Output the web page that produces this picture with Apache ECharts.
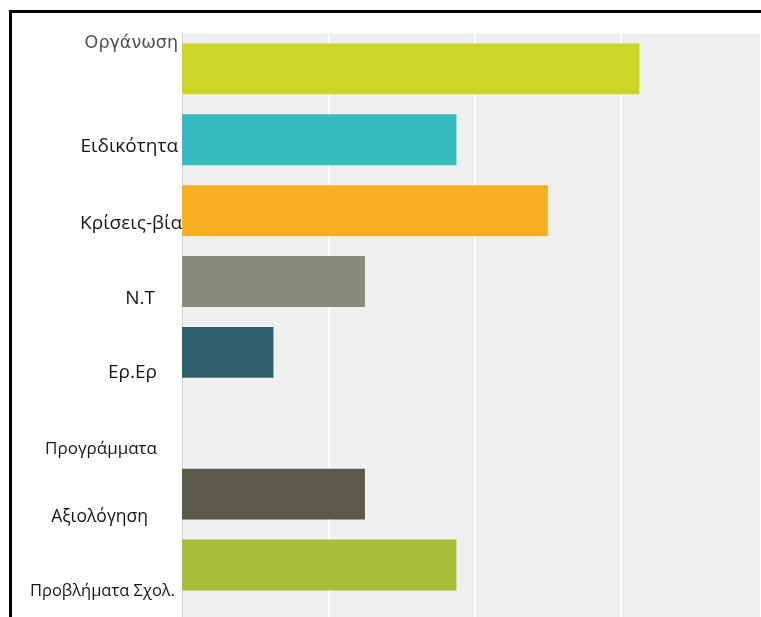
<!DOCTYPE html>
<html>
<head>
<meta charset="utf-8">
<script src="https://cdn.jsdelivr.net/npm/echarts@6/dist/echarts.min.js"></script>
<style>
  html, body { margin: 0; padding: 0; background: #fff; }
  #wrap { position: relative; width: 761px; height: 617px; overflow: hidden; background: #fff; }
  #chart { position: absolute; left: 0; top: 0; width: 761px; height: 617px; }
  #frame { position: absolute; left: 9px; top: 10px; width: 760px; height: 620px;
           border-top: 3px solid #000; border-left: 3px solid #000; pointer-events: none; }
</style>
</head>
<body>
<div id="wrap">
  <div id="chart"></div>
  <div id="frame"></div>
</div>
<script>
// ---- data ----
const categories = ['Οργάνωση', 'Ειδικότητα', 'Κρίσεις-βία', 'Ν.Τ', 'Ερ.Ερ', 'Προγράμματα', 'Αξιολόγηση', 'Προβλήματα Σχολ.'];
const values = [5, 3, 4, 2, 1, 0, 2, 3];
const axisMax = 6.33;
const axisStep = 1.6;

// ---- styles ----
const barColors = ['#CDD52A', '#36BBBE', '#F7AE20', '#8A8A7A', '#2F5F6B', '#7F7F7F', '#5C5A4A', '#AABD3A'];
// per-label nudges [shiftLeft, shiftDown] in px
const labelNudge = [[4, -25], [4, 7], [0, 13], [27, 17], [25, 20], [25, 26], [34, 23], [7, 26]];
const labelSize = [17.5, 19, 19, 19, 19, 17, 17.5, 16.5];

const rich = {};
labelNudge.forEach((n, i) => {
  const dy = n[1];
  rich['l' + i] = {
    fontFamily: i === 0 ? 'DejaVu Sans' : 'Open Sans',
    fontSize: labelSize[i],
    color: i === 0 ? '#505050' : '#161616',
    padding: [dy > 0 ? 2 * dy : 0, n[0], dy < 0 ? -2 * dy : 0, 0]
  };
});

const gridLine = { show: true, lineStyle: { color: '#ffffff', width: 2 } };

const chart = echarts.init(document.getElementById('chart'), null, { renderer: 'canvas' });
chart.setOption({
  animation: false,
  backgroundColor: '#ffffff',
  grid: [
    { left: 182, right: -3, top: 33.4, bottom: 16.6, show: true, backgroundColor: '#efefef', borderWidth: 0 },
    { left: 182, right: -3, top: 600, bottom: -5, show: true, backgroundColor: '#efefef', borderWidth: 0 }
  ],
  xAxis: [
    {
      gridIndex: 0, type: 'value', min: 0, max: axisMax, interval: axisStep,
      axisLabel: { show: false }, axisTick: { show: false }, axisLine: { show: false },
      splitLine: gridLine
    },
    {
      gridIndex: 1, type: 'value', min: 0, max: axisMax, interval: axisStep,
      axisLabel: { show: false }, axisTick: { show: false }, axisLine: { show: false },
      splitLine: gridLine
    }
  ],
  yAxis: [
    {
      gridIndex: 0, type: 'category', inverse: true, data: categories,
      axisTick: { show: false },
      axisLine: { show: true, lineStyle: { color: '#d4d4d4', width: 1 } },
      axisLabel: {
        margin: 0, align: 'right',
        formatter: (v, i) => '{l' + i + '|' + v + '}',
        rich: rich
      }
    },
    {
      gridIndex: 1, type: 'value', min: 0, max: 1,
      axisLabel: { show: false }, axisTick: { show: false }, splitLine: { show: false },
      axisLine: { show: true, onZero: false, lineStyle: { color: '#d4d4d4', width: 1 } }
    }
  ],
  series: [{
    type: 'bar',
    xAxisIndex: 0, yAxisIndex: 0,
    barCategoryGap: '28.2%',
    data: values.map((v, i) => ({ value: v, itemStyle: { color: barColors[i] } }))
  }]
});
</script>
</body>
</html>
